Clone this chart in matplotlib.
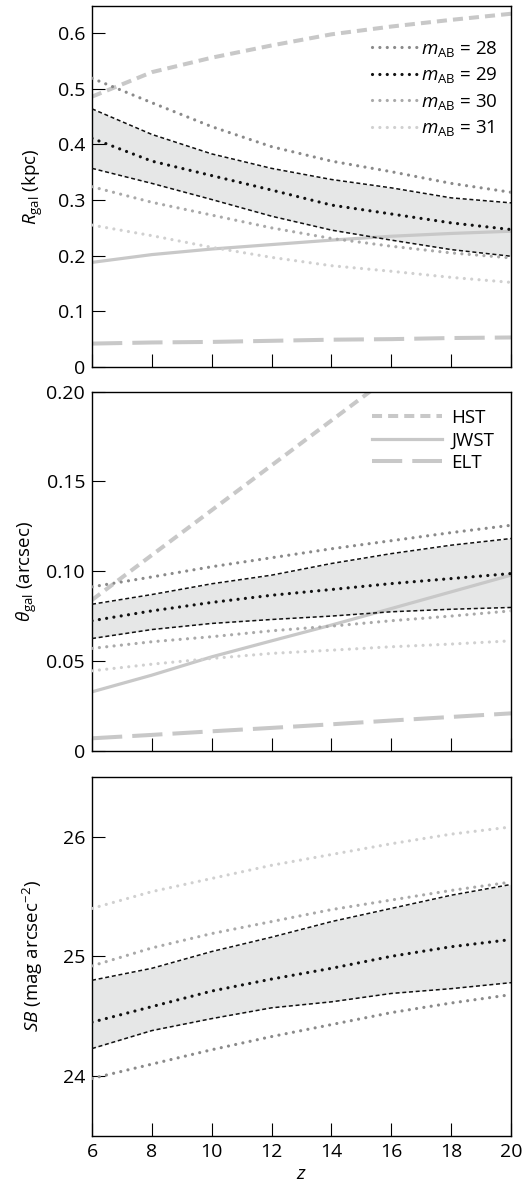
import numpy as np
import matplotlib
matplotlib.use("Agg")
from matplotlib import pyplot as plt

plt.rcParams['font.family'] = ['Open Sans', 'DejaVu Sans']
plt.rcParams['mathtext.fontset'] = 'custom'
plt.rcParams['mathtext.rm'] = 'Open Sans'
plt.rcParams['mathtext.it'] = 'Open Sans:italic'
plt.rcParams['mathtext.bf'] = 'Open Sans:bold'

# redshift grid
z = [6, 8, 10, 12, 14, 16, 18, 20]

# --- R_gal (kpc)
r_hst = [0.486, 0.530, 0.556, 0.578, 0.598, 0.612, 0.624, 0.635]
r_jwst = [0.188, 0.202, 0.212, 0.220, 0.228, 0.235, 0.240, 0.244]
r_elt = [0.042, 0.044, 0.045, 0.047, 0.049, 0.050, 0.052, 0.053]
r_m28 = [0.519, 0.475, 0.432, 0.396, 0.370, 0.351, 0.330, 0.314]
r_m29 = [0.411, 0.370, 0.344, 0.318, 0.291, 0.275, 0.259, 0.247]
r_m30 = [0.324, 0.296, 0.273, 0.250, 0.231, 0.217, 0.205, 0.196]
r_m31 = [0.255, 0.236, 0.215, 0.197, 0.182, 0.172, 0.161, 0.152]
r_hi = [0.464, 0.418, 0.383, 0.357, 0.337, 0.322, 0.304, 0.295]
r_lo = [0.357, 0.330, 0.301, 0.271, 0.246, 0.228, 0.211, 0.199]

# --- theta_gal (arcsec)
t_hst = [0.084, 0.109, 0.134, 0.159, 0.184, 0.209, 0.234, 0.259]
t_jwst = [0.0328, 0.0421, 0.0523, 0.0612, 0.0700, 0.0792, 0.0885, 0.0978]
t_elt = [0.0069, 0.0088, 0.0108, 0.0127, 0.0147, 0.0168, 0.0188, 0.0208]
t_m28 = [0.0913, 0.0968, 0.1025, 0.1075, 0.1125, 0.1170, 0.1215, 0.1256]
t_m29 = [0.0724, 0.0779, 0.0826, 0.0866, 0.0898, 0.0931, 0.0959, 0.0987]
t_m30 = [0.0570, 0.0607, 0.0635, 0.0668, 0.0694, 0.0724, 0.0750, 0.0779]
t_m31 = [0.0445, 0.0482, 0.0514, 0.0542, 0.0560, 0.0579, 0.0594, 0.0612]
t_hi = [0.0816, 0.0870, 0.0930, 0.0978, 0.1043, 0.1098, 0.1145, 0.1182]
t_lo = [0.0625, 0.0675, 0.0709, 0.0731, 0.0750, 0.0774, 0.0788, 0.0798]

# --- surface brightness (mag arcsec^-2)
sb_m28 = [23.98, 24.10, 24.22, 24.33, 24.43, 24.53, 24.61, 24.68]
sb_m29 = [24.45, 24.58, 24.71, 24.81, 24.90, 25.00, 25.08, 25.14]
sb_m30 = [24.92, 25.07, 25.19, 25.29, 25.39, 25.47, 25.55, 25.62]
sb_m31 = [25.40, 25.54, 25.65, 25.76, 25.85, 25.94, 26.02, 26.08]
sb_hi = [24.80, 24.90, 25.04, 25.16, 25.29, 25.40, 25.51, 25.60]
sb_lo = [24.23, 24.38, 24.48, 24.57, 24.62, 24.69, 24.73, 24.78]

mags = [28, 29, 30, 31]
mag_cols = ['#8a8a8a', '#111111', '#a9a9a9', '#d0d0d0']
inst_names = ['HST', 'JWST', 'ELT']
inst_col = '#c8c8c8'

fig = plt.figure(figsize=(5.26, 11.91), dpi=100)
L, W = 0.175, 0.7966
ax1 = fig.add_axes([L, 0.6919, W, 0.3031])
ax2 = fig.add_axes([L, 0.3697, W, 0.3014])
ax3 = fig.add_axes([L, 0.0462, W, 0.3017])

dot = (0, (0.01, 2.3))
band_ls = (0, (2.6, 1.8))


def draw_mags(ax, series, hi, lo):
    ax.fill_between(z, lo, hi, color='#e6e7e7', lw=0, zorder=1)
    ax.plot(z, hi, color='#111111', lw=1.1, ls=band_ls, zorder=3)
    ax.plot(z, lo, color='#111111', lw=1.1, ls=band_ls, zorder=3)
    hs = []
    for m, c, y in zip(mags, mag_cols, series):
        h, = ax.plot(z, y, color=c, lw=2.3, ls=dot, dash_capstyle='round', zorder=4,
                     label=r'$m_{\rm AB}$ = %d' % m)
        hs.append(h)
    return hs


def draw_inst(ax, hst, jwst, elt):
    h1, = ax.plot(z, hst, color=inst_col, lw=2.9, ls=(0, (2.5, 1.5)), zorder=2, label=inst_names[0])
    h2, = ax.plot(z, jwst, color=inst_col, lw=2.3, ls='-', zorder=2, label=inst_names[1])
    h3, = ax.plot(z, elt, color=inst_col, lw=2.9, ls=(0, (7.5, 2.5)), zorder=2, label=inst_names[2])
    return [h1, h2, h3]


hm = draw_mags(ax1, [r_m28, r_m29, r_m30, r_m31], r_hi, r_lo)
draw_inst(ax1, r_hst, r_jwst, r_elt)
draw_mags(ax2, [t_m28, t_m29, t_m30, t_m31], t_hi, t_lo)
hi_ = draw_inst(ax2, t_hst, t_jwst, t_elt)
draw_mags(ax3, [sb_m28, sb_m29, sb_m30, sb_m31], sb_hi, sb_lo)

ax1.legend(handles=hm, loc='upper right', bbox_to_anchor=(0.985, 0.93),
           frameon=False, fontsize=13.5, borderaxespad=0,
           handlelength=2.4, handletextpad=0.2, labelspacing=0.35)
ax2.legend(handles=hi_, loc='upper right', frameon=False, fontsize=13.5,
           handlelength=3.7, handletextpad=0.5, labelspacing=0.25,
           borderaxespad=0.5)

ax1.set_ylim(0, 0.649)
ax1.set_yticks([0, 0.1, 0.2, 0.3, 0.4, 0.5, 0.6])
ax1.set_yticklabels(['0', '0.1', '0.2', '0.3', '0.4', '0.5', '0.6'])
ax2.set_ylim(0, 0.2)
ax2.set_yticks([0, 0.05, 0.10, 0.15, 0.20])
ax2.set_yticklabels(['0', '0.05', '0.10', '0.15', '0.20'])
ax3.set_ylim(23.5, 26.5)
ax3.set_yticks([24, 25, 26])

ax1.set_ylabel(r'$R_{\rm gal}$ (kpc)', fontsize=13.5, labelpad=9)
ax2.set_ylabel(r'$\theta_{\rm gal}$ (arcsec)', fontsize=13.5, labelpad=5)
ax3.set_ylabel(r'$SB$ (mag arcsec$^{-2}$)', fontsize=13.5, labelpad=13)
ax3.set_xlabel(r'$z$', fontsize=14, labelpad=3)

for ax in (ax1, ax2, ax3):
    ax.set_xlim(6, 20)
    ax.set_xticks(range(6, 21, 2))
    ax.tick_params(direction='in', length=9.5, width=0.8, labelsize=14,
                   top=False, right=False, pad=5)
    for s in ax.spines.values():
        s.set_linewidth(1.0)
ax1.tick_params(labelbottom=False)
ax2.tick_params(labelbottom=False)

fig.savefig('out.png', dpi=100)
